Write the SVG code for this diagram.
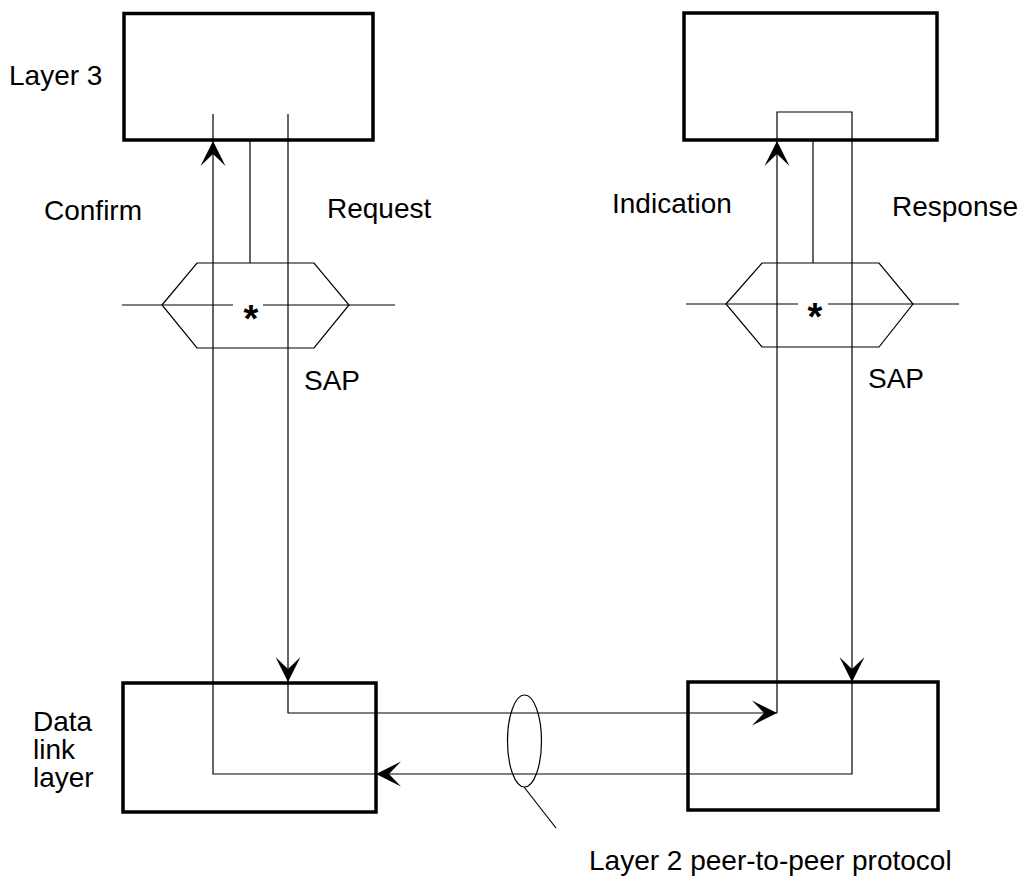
<svg xmlns="http://www.w3.org/2000/svg" width="1021" height="879" viewBox="0 0 1021 879">
<style>
.box{fill:none;stroke:#000;stroke-width:3.5}
.ln{fill:none;stroke:#000;stroke-width:1.2}
.t{font-family:"Liberation Sans",Arial,sans-serif;font-size:28px;fill:#000}
.ast{font-family:"Liberation Sans",Arial,sans-serif;font-size:38px;font-weight:bold;fill:#000;text-anchor:middle}
</style>
<defs>
<marker id="arr" markerUnits="userSpaceOnUse" viewBox="-26 -13 27 26" refX="0" refY="0" markerWidth="27" markerHeight="26" orient="auto" overflow="visible">
<path d="M0,0 L-25,-12.5 L-13,0 L-25,12.5 Z" fill="#000"/>
</marker>
</defs>
<rect width="1021" height="879" fill="#fff"/>

<g id="layer3-left">
<rect class="box" x="124" y="13.5" width="249" height="126.5"/>
</g>
<g id="layer3-right">
<rect class="box" x="684" y="13" width="253" height="127"/>
</g>
<g id="dll-left">
<rect class="box" x="123" y="683" width="253" height="129"/>
</g>
<g id="dll-right">
<rect class="box" x="688" y="682" width="250" height="128"/>
</g>

<g id="sap-left">
<polygon class="ln" points="162,305 197,263 314,263 349,305 314,348 197,348"/>
<path class="ln" d="M122,305 L233,305 M263,305 L395,305"/>
<text class="ast" x="251" y="332">*</text>
<text class="t" x="304" y="390">SAP</text>
</g>
<g id="sap-right">
<polygon class="ln" points="726,304 762,263 879,263 913,304 879,347 762,347"/>
<path class="ln" d="M686,304 L798,304 M828,304 L959,304"/>
<text class="ast" x="815" y="330">*</text>
<text class="t" x="868" y="388">SAP</text>
</g>

<g id="labels">
<text class="t" x="9" y="85">Layer 3</text>
<text class="t" x="44" y="220">Confirm</text>
<text class="t" x="327" y="218">Request</text>
<text class="t" x="612" y="213">Indication</text>
<text class="t" x="892" y="216">Response</text>
<text class="t" x="33" y="731">Data</text>
<text class="t" x="33" y="759">link</text>
<text class="t" x="33" y="787">layer</text>
<text class="t" x="589" y="870">Layer 2 peer-to-peer protocol</text>
</g>

<g id="protocol-marker">
<ellipse class="ln" cx="524.5" cy="741" rx="17" ry="46"/>
<path class="ln" d="M524,787 L556,828"/>
</g>

<g id="connectors">
<path class="ln" d="M250,140 L250,263"/>
<path class="ln" d="M813,140 L813,263"/>
<path class="ln" d="M288,114 L288,682" marker-end="url(#arr)"/>
<path class="ln" d="M288,682 L288,713 L777,713" marker-end="url(#arr)"/>
<path class="ln" d="M777,713 L777,141" marker-end="url(#arr)"/>
<path class="ln" d="M777,141 L777,112 L852,112 L852,682" marker-end="url(#arr)"/>
<path class="ln" d="M852,682 L852,774 L376,774" marker-end="url(#arr)"/>
<path class="ln" d="M376,774 L213,774 L213,141" marker-end="url(#arr)"/>
<path class="ln" d="M213,141 L213,114"/>
</g>
</svg>
